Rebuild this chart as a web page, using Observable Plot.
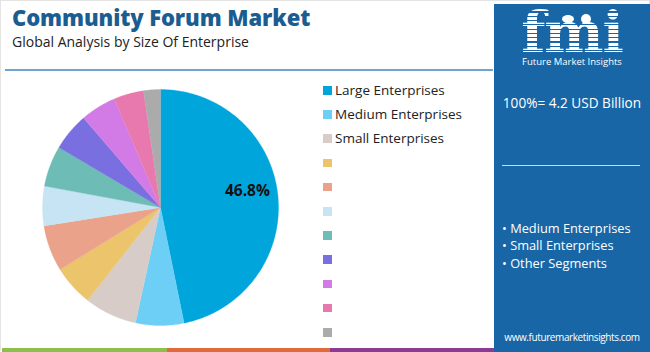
<!DOCTYPE html>
<html>
<head>
<meta charset="utf-8">
<script src="https://cdn.jsdelivr.net/npm/d3@7"></script>
<script src="https://cdn.jsdelivr.net/npm/@observablehq/plot@0.6"></script>
<style>
  html, body { margin: 0; padding: 0; background: #fff; }
  #wrap { position: relative; width: 650px; height: 352px; overflow: hidden; font-family: "Open Sans", sans-serif; background: #fff; }
  #frame { position: absolute; left: 0; top: 0; width: 648px; height: 350px; border: 1px solid #e4e4e4; border-bottom: none; }
  #title { position: absolute; left: 12px; top: 1.5px; font-size: 22px; line-height: 30px; font-weight: 800; color: #1b5d90; letter-spacing: -0.1px; white-space: nowrap; }
  #subtitle { position: absolute; left: 12px; top: 32.5px; font-size: 14px; line-height: 18px; color: #222; white-space: nowrap; }
  #rule { position: absolute; left: 5px; top: 69px; width: 488px; height: 2px; background: #4b8fc4; opacity: 0.8; }
  #chart { position: absolute; left: 0; top: 0; }
  #legend { position: absolute; left: 323px; top: 0; }
  .li { position: absolute; left: 0; white-space: nowrap; font-size: 13.5px; color: #222; height: 20px; line-height: 20px; }
  .sw { position: absolute; left: 0; top: 6px; width: 8.5px; height: 8.5px; }
  .lt { position: absolute; left: 12px; top: 0; }
  #panel { position: absolute; left: 494px; top: 4px; width: 156px; height: 348px; background: #1866a6; color: #fff; }
  #logo { position: absolute; left: 0; top: 0px; width: 156px; text-align: center; font-family: "DejaVu Serif", serif; font-weight: bold; font-size: 56px; line-height: 56px; letter-spacing: -1px;
    -webkit-mask-image: repeating-linear-gradient(to bottom, #000 0px, #000 3px, transparent 3px, transparent 4.3px); }
  .dot { position: absolute; background: #fff; border-radius: 50%; }
  #logosub { position: absolute; left: 0; top: 51px; width: 156px; text-align: center; font-size: 9.5px; line-height: 13px; }
  #total { position: absolute; left: 0; top: 89px; width: 156px; text-align: center; font-size: 13.6px; }
  #prule { position: absolute; left: 8px; top: 161px; width: 138px; height: 1px; background: #c9dcec; }
  #bul { position: absolute; left: 8px; top: 216px; font-size: 12.8px; line-height: 17.4px; }
  #url { position: absolute; left: 0; top: 326px; width: 156px; text-align: center; font-size: 10px; letter-spacing: -0.4px; }
  .strip { position: absolute; top: 348px; height: 4px; }
</style>
</head>
<body>
<div id="wrap">
  <div id="frame"></div>
  <div id="chart"></div>
  <div id="title">Community Forum Market</div>
  <div id="subtitle">Global Analysis by Size Of Enterprise</div>
  <div id="rule"></div>
  <div id="legend"></div>
  <div id="panel">
    <div id="logo">fmi</div>
    <div class="dot" style="left:68px;top:11px;width:12px;height:8px"></div>
    <div class="dot" style="left:87px;top:10px;width:10px;height:10px"></div>
    <div id="logosub">Future Market Insights</div>
    <div id="total">100%= 4.2 USD Billion</div>
    <div id="prule"></div>
    <div id="bul">• Medium Enterprises<br>• Small Enterprises<br>• Other Segments</div>
    <div id="url">www.futuremarketinsights.com</div>
  </div>
  <div class="strip" style="left:2px;width:165px;background:#8cbf4c"></div>
  <div class="strip" style="left:167px;width:163px;background:#e06a3c"></div>
  <div class="strip" style="left:330px;width:164px;background:#8a3b94"></div>
</div>
<script>
// ---- data ----
const keys = ["large", "medium", "small", "s4", "s5", "s6", "s7", "s8", "s9", "s10", "s11"];
const labels = ["Large Enterprises", "Medium Enterprises", "Small Enterprises", "", "", "", "", "", "", "", ""];
const values = [46.8, 6.6, 7.2, 5.6, 6.3, 5.4, 5.6, 5.2, 4.9, 4.1, 2.3];
const colors = ["#00a5dc", "#6dcff5", "#d8ccc9", "#ecc46c", "#eba28b", "#c6e4f3", "#6dbcb6", "#7a6fe0", "#d27be6", "#e879ae", "#ababab"];
const shownLabel = "46.8%";

// ---- pie geometry through d3.pie, drawn with Plot scales ----
const arcs = d3.pie().sort(null).value(d => d)(values);
const pts = [];
arcs.forEach((a, i) => {
  pts.push({k: keys[i], x: 0, y: 0});
  const n = Math.max(2, Math.ceil((a.endAngle - a.startAngle) / 0.01));
  for (let j = 0; j <= n; j++) {
    const t = a.startAngle + (a.endAngle - a.startAngle) * j / n;
    pts.push({k: keys[i], x: Math.sin(t), y: Math.cos(t)});
  }
  pts.push({k: keys[i], x: 0, y: 0});
});
const a0 = arcs[0];
const mid = (a0.startAngle + a0.endAngle) / 2 - 0.09;
const labelPos = [{x: Math.sin(mid) * 0.75, y: Math.cos(mid) * 0.75, t: shownLabel}];

const R = 118, cx = 160, cy = 207;
const chart = Plot.plot({
  width: 650, height: 352, margin: 0,
  style: {background: "transparent"},
  x: {domain: [-1, 1], range: [cx - R, cx + R], axis: null},
  y: {domain: [-1, 1], range: [cy + R, cy - R], axis: null},
  color: {domain: keys, range: colors},
  marks: [
    Plot.line(pts, {x: "x", y: "y", z: "k", fill: "k", stroke: "k", strokeWidth: 0.3, curve: "linear"}),
    Plot.text(labelPos, {x: "x", y: "y", text: "t", fontSize: 15.5, fontWeight: "bold", fill: "#111", fontFamily: "Open Sans"})
  ]
});
document.getElementById("chart").appendChild(chart);

// ---- legend ----
const lg = document.getElementById("legend");
keys.forEach((k, i) => {
  const row = document.createElement("div");
  row.className = "li";
  row.style.top = (80 + i * 24.2) + "px";
  row.innerHTML = `<span class="sw" style="background:${colors[i]}"></span><span class="lt">${labels[i]}</span>`;
  lg.appendChild(row);
});
</script>
</body>
</html>
